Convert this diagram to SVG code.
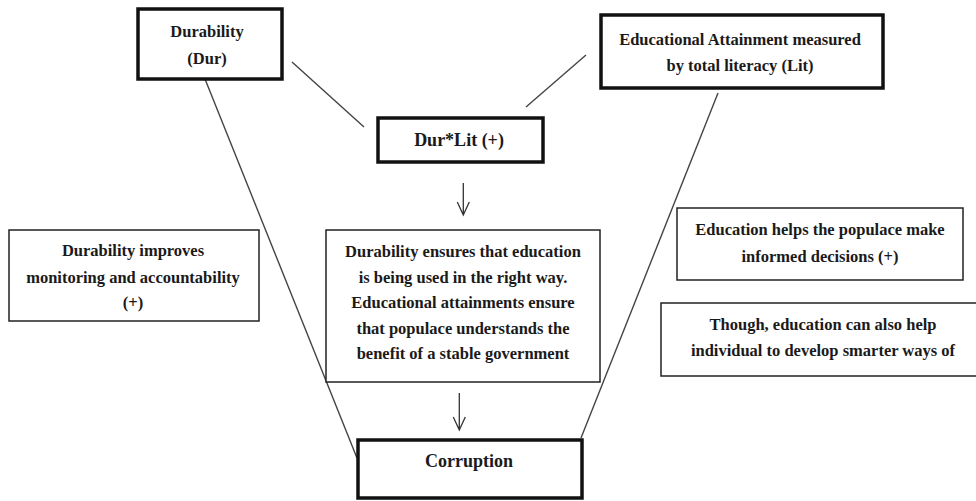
<svg xmlns="http://www.w3.org/2000/svg" width="976" height="501" viewBox="0 0 976 501">
<defs>
<style>
text{font-family:"Liberation Serif","Times New Roman",serif;font-weight:bold;font-size:16.5px;fill:#1a1a1a;text-anchor:middle}
.thick{fill:#fff;stroke:#111;stroke-width:3.5}
.thin{fill:#fff;stroke:#222;stroke-width:1.5}
.ln{stroke:#444;stroke-width:1.4;fill:none}
.arr{stroke:#333;stroke-width:1.3;fill:none}
</style>
</defs>
<rect width="976" height="501" fill="#fff"/>
<g id="connectors">
<line class="ln" x1="292" y1="62" x2="364" y2="127"/>
<line class="ln" x1="586" y1="55" x2="526" y2="107"/>
<line class="ln" x1="205" y1="79" x2="357" y2="458"/>
<line class="ln" x1="718" y1="93" x2="581" y2="438"/>
<path class="arr" d="M463.3 183V215M457.3 202L463.3 215L469.3 202"/>
<path class="arr" d="M459.3 393V430M453.3 417L459.3 430L465.3 417"/>
</g>
<g id="dur">
<rect class="thick" x="138" y="9" width="144" height="70"/>
<text x="207" y="37">Durability</text>
<text x="207" y="64">(Dur)</text>
</g>
<g id="lit">
<rect class="thick" x="601" y="15" width="282" height="73"/>
<text x="740" y="45">Educational Attainment measured</text>
<text x="740" y="71">by total literacy (Lit)</text>
</g>
<g id="durlit">
<rect class="thick" x="378" y="118" width="165" height="44"/>
<text x="459" y="146" style="font-size:18px">Dur*Lit (+)</text>
</g>
<g id="mid">
<rect class="thin" x="326" y="230" width="274" height="152"/>
<text x="463" y="257">Durability ensures that education</text>
<text x="463" y="282.5">is being used in the right way.</text>
<text x="463" y="308">Educational attainments ensure</text>
<text x="463" y="333.5">that populace understands the</text>
<text x="463" y="359">benefit of a stable government</text>
</g>
<g id="left">
<rect class="thin" x="9" y="230" width="250" height="91"/>
<text x="133" y="256">Durability improves</text>
<text x="133" y="283">monitoring and accountability</text>
<text x="133" y="308">(+)</text>
</g>
<g id="right1">
<rect class="thin" x="677" y="208" width="286" height="72"/>
<text x="820" y="235">Education helps the populace make</text>
<text x="820" y="261.5">informed decisions (+)</text>
</g>
<g id="right2">
<rect class="thin" x="661" y="303" width="316" height="73"/>
<text x="823" y="330">Though, education can also help</text>
<text x="823" y="356">individual to develop smarter ways of</text>
</g>
<g id="corr">
<rect class="thick" x="358" y="440" width="224" height="58"/>
<text x="469" y="467" style="font-size:18px">Corruption</text>
</g>
</svg>
